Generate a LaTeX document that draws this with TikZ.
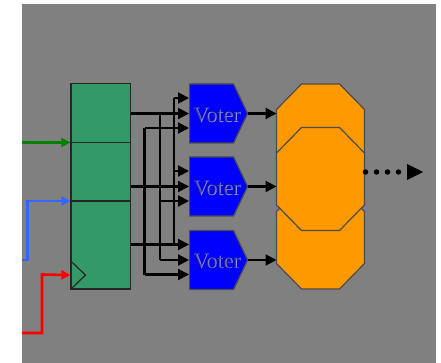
\documentclass[tikz,border=0pt]{standalone}
\usepackage{xcolor}
\usepackage{fontspec}
\setmainfont{Liberation Serif}
\usetikzlibrary{arrows.meta,calc,shapes.symbols}
\definecolor{bggray}{HTML}{808080}
\definecolor{reggreen}{HTML}{339966}
\definecolor{voteblue}{HTML}{0000FF}
\definecolor{octorange}{HTML}{FF9900}
\definecolor{wireblue}{HTML}{3366FF}
\definecolor{wiregreen}{HTML}{008000}
\definecolor{textshade}{HTML}{1A1040}
\definecolor{textlight}{HTML}{B0B0F0}
\tikzset{
  regbox/.style={draw=black!85,fill=reggreen,line width=1.2pt,minimum width=59.5pt,inner sep=0pt},
  voter/.style={signal,signal to=east,anchor=west,draw=black!70,fill=voteblue,line width=1.2pt,minimum width=58pt,minimum height=59pt,inner sep=0pt,signal pointer angle=129},
  majority/.style={draw=black!70,fill=octorange,line width=1.2pt,line join=round},
  wire/.style={line width=2.1pt,-{Triangle[length=11pt,width=11pt]}},
  bus/.style={line width=2.1pt},
  feed/.style={line width=2.6pt,-{Triangle[length=9pt,width=9pt]}},
  votertext/.style={font=\fontsize{22}{22}\selectfont,inner sep=0pt}
}
\begin{document}
\begin{tikzpicture}[x=1pt,y=-1pt]
  \useasboundingbox (0,0) rectangle (441,363);
  \fill[bggray] (22,4) rectangle (436,363);
  % register
  \node[regbox,minimum height=59.5pt] (regA) at (100.75,113) {};
  \node[regbox,minimum height=58.5pt] (regB) at (100.75,172) {};
  \node[regbox,minimum height=88pt] (regC) at (100.75,245) {};
  \draw[line width=1.2pt,black!85] ($(regC.south west)+(0,-29)$) -- ($(regC.south west)+(15,-14.5)$) -- (regC.south west);
  % voters
  \node[voter] (votA) at (189,113.5) {};
  \node[voter] (votB) at (189,186.5) {};
  \node[voter] (votC) at (189,260) {};
  % majority
  \foreach \o/\c in {octA/135.5,octC/237.5,octB/179} {
    \coordinate (\o) at (320.5,\c);
    \coordinate (\o west) at (276.5,\c);
    \coordinate (\o east) at (364.5,\c);
    \filldraw[majority] ($(\o)+(-44,-26)$) -- ($(\o)+(-19,-51.5)$) -- ($(\o)+(19,-51.5)$) -- ($(\o)+(44,-26)$)
      -- ($(\o)+(44,26)$) -- ($(\o)+(19,51.5)$) -- ($(\o)+(-19,51.5)$) -- ($(\o)+(-44,26)$) -- cycle;
  }
  % inputs
  \coordinate (inA) at (22,142.5);
  \coordinate (inB) at (22,260);
  \coordinate (inC) at (22,333);
  \coordinate (tipA) at (regA.west |- inA);
  \coordinate (tipB) at (regB.west |- 0,201);
  \coordinate (tipC) at ($(regC.south west)+(0,-14.5)$);
  \draw[feed,wiregreen] (inA) -- (tipA);
  \draw[feed,wireblue] (inB) -- (27.5,260) -- (27.5,201) -- (tipB);
  \draw[feed,red] (inC) -- (42,333) -- (42,274.5) -- (tipC);
  % outputs to voter inputs
  \foreach \v/\y in {votA/98,votB/171,votC/244.5} {
    \coordinate (\v top) at (\v.west |- 0,\y);
  }
  \foreach \v/\y in {votA/128,votB/201,votC/274.5} {
    \coordinate (\v low) at (\v.west |- 0,\y);
  }
  \coordinate (outA) at (regA.east |- votA.west);
  \coordinate (outB) at (regA.east |- votB.west);
  \coordinate (outC) at (regA.east |- votCtop);
  \draw[wire] (outA) -- (votA.west);
  \draw[wire] (outB) -- (votB.west);
  \draw[wire] (outC) -- (votCtop);
  \draw[bus] (174,244.5) -- (174,98);
  \draw[wire] (174,98) -- (votAtop);
  \draw[wire] (174,171) -- (votBtop);
  \draw[bus] (160,113) -- (160,260);
  \draw[wire] (160,201) -- (votBlow);
  \draw[wire] (160,260) -- (votC.west);
  \draw[bus] (144.5,128) -- (144.5,274.5);
  \draw[wire] (144.5,128) -- (votAlow);
  \draw[wire] (144.5,274.5) -- (votClow);
  % voter to majority
  \draw[wire] (votA.east) -- (votA.east -| octAwest);
  \draw[wire] (votB.east) -- (votB.east -| octBwest);
  \draw[wire] (votC.east) -- (votC.east -| octCwest);
  % output
  \coordinate (outEnd) at (423,172);
  \coordinate (outTip) at (407,172);
  \draw[line width=5.5pt,line cap=round,dash pattern=on 0pt off 11pt] ($(octBeast |- outEnd)+(1,0)$) -- (outTip);
  \draw[fill=black,draw=none] (407,164) -- (outEnd) -- (407,180) -- cycle;
  % voter texts
  \foreach \v in {votA,votB,votC} {
    \node[votertext,text=textlight,opacity=0.8] at ($(\v.west)+(28.3,1.8)$) {Voter};
    \node[votertext,text=textshade,opacity=0.55] (\v txt) at ($(\v.west)+(27.3,1)$) {Voter};
  }
\end{tikzpicture}
\end{document}
